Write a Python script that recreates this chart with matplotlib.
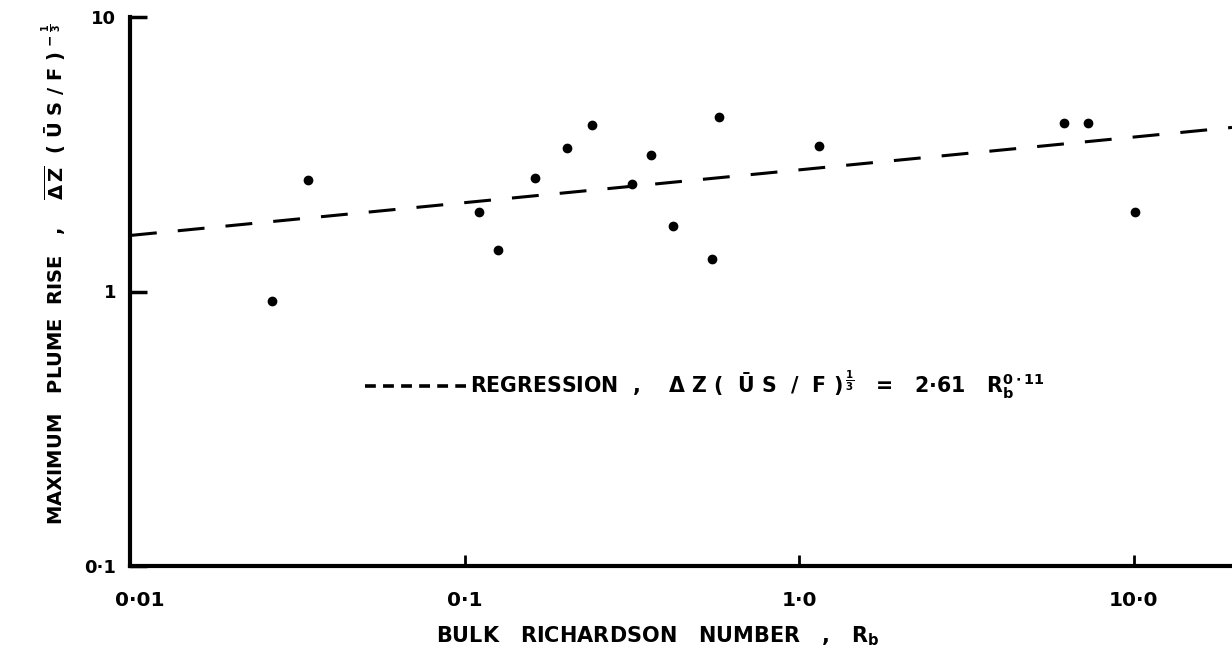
import matplotlib
matplotlib.use("Agg")
import matplotlib.pyplot as plt
from matplotlib.lines import Line2D
from matplotlib.transforms import ScaledTranslation

# ---- data ----
rb = [0.0266, 0.0341, 0.1105, 0.1257, 0.1628, 0.2029, 0.2410, 0.3161,
      0.3610, 0.4193, 0.5495, 0.5765, 1.146, 6.197, 7.297, 10.08]
rise = [0.921, 2.556, 1.944, 1.417, 2.593, 3.336, 4.036, 2.465,
        3.146, 1.729, 1.310, 4.327, 3.387, 4.125, 4.104, 1.954]

reg_x = [0.01, 19.7]
reg_y = [1.60, 3.96]

xticks = [0.01, 0.1, 1.0, 10.0]
xticklabels = ["0·01", "0·1", "1·0", "10·0"]
yticks = [0.1, 1, 10]
yticklabels = ["0·1", "1", "10"]

# ---- style ----
plt.rcParams['font.family'] = ['DejaVu Sans']
plt.rcParams['font.weight'] = 'bold'
plt.rcParams['mathtext.fontset'] = 'custom'
plt.rcParams['mathtext.rm'] = 'DejaVu Sans:bold'
plt.rcParams['mathtext.it'] = 'DejaVu Sans:bold'
plt.rcParams['mathtext.bf'] = 'DejaVu Sans:bold'
plt.rcParams['mathtext.sf'] = 'DejaVu Sans:bold'

W, H = 1232, 649
fig = plt.figure(figsize=(W / 100, H / 100), dpi=100)
left, right, bottom, top = 130, 1232, 566, 17
ax = fig.add_axes([left / W, 1 - bottom / H, (right - left) / W, (bottom - top) / H])

ax.set_xscale('log')
ax.set_yscale('log')
ax.set_xlim(0.01, 19.7)
ax.set_ylim(0.1, 10)

ax.plot(rb, rise, 'o', color='black', markersize=6.0, linestyle='none', zorder=3)
ax.plot(reg_x, reg_y, color='black', lw=2.2, dashes=(8.8, 6.9), solid_capstyle='butt')

for s in ['top', 'right']:
    ax.spines[s].set_visible(False)
for s in ['left', 'bottom']:
    ax.spines[s].set_linewidth(3)

ax.set_xticks(xticks)
ax.set_xticklabels(xticklabels, fontsize=14.5, fontweight='bold')
ax.set_yticks(yticks)
ax.set_yticklabels(yticklabels, fontsize=13, fontweight='bold')
ax.minorticks_off()
ax.tick_params(axis='x', direction='in', length=8, width=2, pad=18)
ax.tick_params(axis='y', direction='in', length=12, width=2.5, pad=10)
xl0 = ax.get_xticklabels()[0]
xl0.set_transform(xl0.get_transform() + ScaledTranslation(0.10, 0, fig.dpi_scale_trans))

ax.set_xlabel("BULK   RICHARDSON   NUMBER   ,   R$_{\\mathrm{b}}$", fontsize=15,
              fontweight='bold')
ax.xaxis.set_label_coords((658 - left) / (right - left), -(624 - bottom) / (bottom - top))

ax.set_ylabel("MAXIMUM   PLUME  RISE   ,    $\\overline{\\Delta\\,\\mathrm{Z}}$  ( Ū S / F )$^{\\,-\\frac{1}{3}}$",
              fontsize=14, fontweight='bold')
ax.yaxis.set_label_coords(-(left - 70) / (right - left), (bottom - 274) / (bottom - top))

key = Line2D([], [], color='black', lw=2.6, dashes=(3.0, 2.0))
leg = ax.legend([key], ["REGRESSION  ,    Δ Z (  Ū S  /  F )$^{\\,\\frac{1}{3}}$   =   2·61   R$_{\\mathrm{b}}^{0\\cdot11}$"],
                loc='center left', bbox_to_anchor=(365 / W, 1 - 385 / H),
                bbox_transform=fig.transFigure, frameon=False, borderpad=0,
                borderaxespad=0, handlelength=4.9, handletextpad=0.2,
                prop={'size': 14.8, 'weight': 'bold'})

fig.savefig("out.png", dpi=100)
